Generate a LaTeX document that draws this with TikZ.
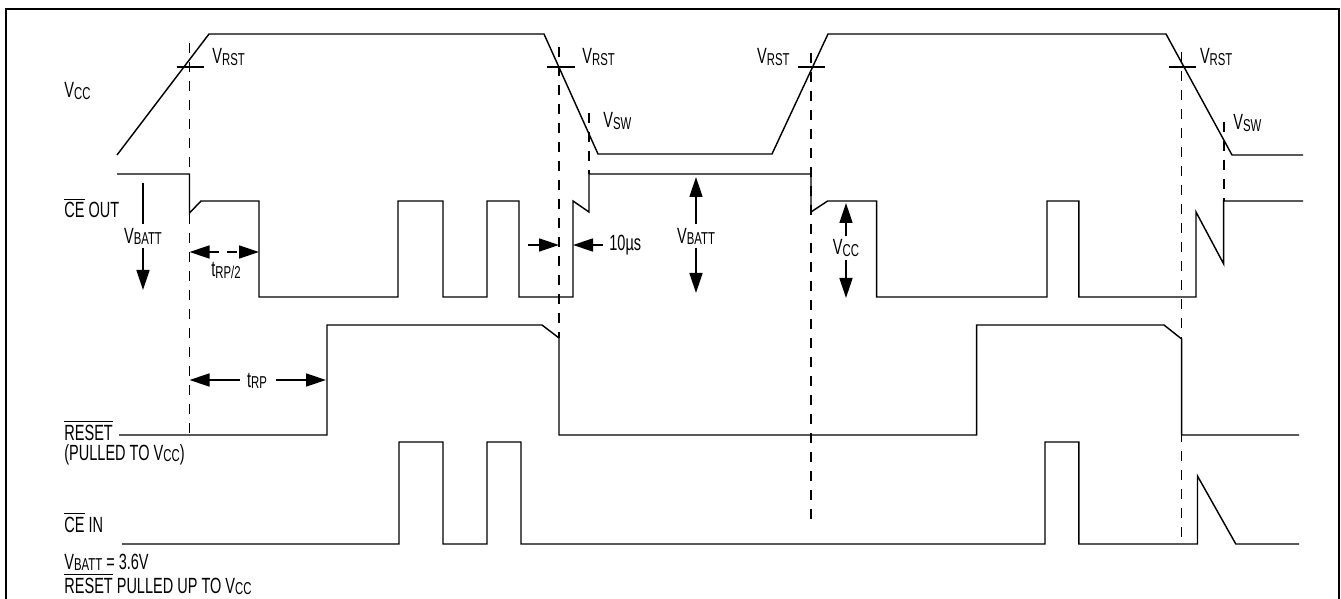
\documentclass[tikz,border=0pt]{standalone}
\usepackage{fontspec}
\setmainfont{Liberation Sans}[FakeStretch=0.66]
\usetikzlibrary{arrows.meta}
\newcommand\sbs[1]{\raisebox{-0.6pt}{\fontsize{8.6}{9}\selectfont #1}}
\newcommand\ovl[1]{$\overline{\mbox{#1}}$}
\begin{document}
\begin{tikzpicture}[x=0.5pt,y=-0.5pt,
  wave/.style={line width=0.72pt, line join=miter},
  guide/.style={line width=0.8pt, dash pattern=on 5pt off 4.5pt},
  tickmark/.style={line width=0.72pt},
  plain/.style={line width=0.72pt},
  arr/.style={line width=0.72pt,-{Triangle[length=10pt,width=6.5pt]}},
  lbl/.style={inner sep=0pt, font=\fontsize{11}{12}\selectfont},
  albl/.style={lbl, inner sep=1.5pt}]
\useasboundingbox (0,0) rectangle (1341,599);
% frame
\draw[line width=1.1pt] (6,599) -- (6,9) -- (1339,9) -- (1339,599);

% dashed guide lines
\draw[guide] (189.5,43) -- (189.5,436);
\draw[guide] (559,47) -- (559,338);
\draw[guide] (589,113) -- (589,174);
\draw[guide] (811,53) -- (811,523);
\draw[guide] (1181.6,52) -- (1181.6,542);
\draw[guide] (1223.7,122) -- (1223.7,201);

% VCC waveform
\draw[wave] (117,155) -- (209,34) -- (544,34) -- (598,154) -- (772,154) -- (828,34)
  -- (1166,34) -- (1232,155) -- (1303,155);
% VRST ticks
\draw[tickmark] (177,67) -- (204,67);
\draw[tickmark] (547,67) -- (575,67);
\draw[tickmark] (798,67) -- (825,67);
\draw[tickmark] (1168.5,67) -- (1195.5,67);

% CE OUT waveform
\draw[wave] (117,174) -- (189.5,174) -- (189.5,213) -- (201,201) -- (259,201) -- (259,297)
  -- (398,297) -- (398,201) -- (443,201) -- (443,297) -- (487,297) -- (487,201)
  -- (519,201) -- (519,297) -- (573,297) -- (573,201) -- (589,212) -- (589,174)
  -- (811,174) -- (811,212) -- (827.6,201) -- (876.6,201) -- (876.6,297)
  -- (1047,297) -- (1047,201) -- (1078.8,201) -- (1078.8,297) -- (1196,297)
  -- (1196,212) -- (1223.7,264) -- (1223.7,201) -- (1303,201);

% RESET waveform
\draw[wave] (119,435) -- (327,435) -- (327,325) -- (542,325) -- (559,338) -- (559,435)
  -- (976.7,435) -- (976.7,325) -- (1164,325) -- (1181.6,339) -- (1181.6,435) -- (1299,435);

% CE IN waveform
\draw[wave] (122,544) -- (399,544) -- (399,442) -- (443,442) -- (443,544) -- (487,544)
  -- (487,442) -- (521,442) -- (521,544) -- (1045,544) -- (1045,442) -- (1078.8,442)
  -- (1078.8,544) -- (1197.5,544) -- (1197.5,476) -- (1235.8,544) -- (1299,544);

% signal labels
\node[lbl, anchor=base west] (lvcc) at (64,98) {V\sbs{CC}};
\node[lbl, anchor=base west] (lceout) at (64,218) {\ovl{CE} OUT};
\node[lbl, anchor=base west] (lreset) at (64,440) {\ovl{RESET}};
\node[lbl, anchor=base west] (lpull) at (64,460) {(PULLED TO V\sbs{CC})};
\node[lbl, anchor=base west] (lcein) at (64,532) {\ovl{CE} IN};
\node[lbl, anchor=base west] (lnote1) at (64,569) {V\sbs{BATT} = 3.6V};
\node[lbl, anchor=base west] (lnote2) at (64,593) {\ovl{RESET} PULLED UP TO V\sbs{CC}};

% threshold labels
\node[lbl, anchor=base west] (vrst1) at (212,64) {V\sbs{RST}};
\node[lbl, anchor=base west] (vrst2) at (582,64) {V\sbs{RST}};
\node[lbl, anchor=base west] (vsw1) at (603,128) {V\sbs{SW}};
\node[lbl, anchor=base east] (vrst3) at (790,64) {V\sbs{RST}};
\node[lbl, anchor=base west] (vrst4) at (1199.6,64) {V\sbs{RST}};
\node[lbl, anchor=base west] (vsw2) at (1233,130) {V\sbs{SW}};

% VBATT arrow (left)
\node[albl, anchor=base] (vb1) at (143,243) {V\sbs{BATT}};
\draw[plain] (143,183) -- (vb1.north);
\draw[arr] (vb1.south) -- (143,290);

% VBATT arrow (middle)
\node[albl, anchor=base] (vb2) at (696,243) {V\sbs{BATT}};
\draw[arr] (vb2.north) -- (696,177);
\draw[arr] (vb2.south) -- (696,293);

% VCC arrow
\node[albl, anchor=base] (vcc2) at (846,255) {V\sbs{CC}};
\draw[arr] (vcc2.north) -- (846,203);
\draw[arr] (vcc2.south) -- (846,298);

% tRP/2
\draw[line width=0.72pt, dash pattern=on 5pt off 4pt,
  {Triangle[length=10pt,width=6.5pt]}-{Triangle[length=10pt,width=6.5pt]}] (189.5,252) -- (259,252);
\node[lbl, anchor=base] (trp2) at (226,277) {t\sbs{RP/2}};

% tRP
\node[lbl, anchor=base] (trp) at (257,387) {t\sbs{RP}};
\draw[arr] (240,380) -- (189.5,380);
\draw[arr] (276,380) -- (326,380);

% 10us
\node[lbl, anchor=base west] (tenus) at (609,250) {10µs};
\draw[arr] (528,245) -- (559,245);
\draw[arr] (603,245) -- (573,245);
\end{tikzpicture}
\end{document}
